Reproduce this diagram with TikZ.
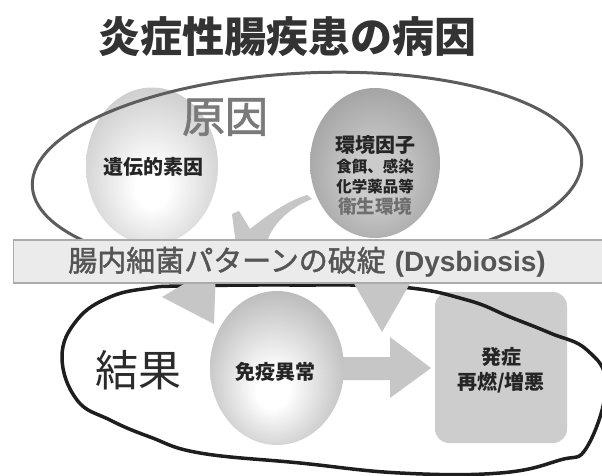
\documentclass[tikz,border=0pt]{standalone}
\usepackage{fontspec}
\setmainfont{Liberation Sans}
\newfontfamily\jp{Noto Sans CJK JP}
\newfontfamily\jpmed[FakeBold=1.5]{Noto Sans CJK JP}
\usetikzlibrary{shapes.geometric}
\definecolor{titlegray}{HTML}{333333}
\definecolor{causegray}{HTML}{7A7A7A}
\definecolor{resultgray}{HTML}{2B2B2B}
\definecolor{ringgray}{HTML}{5C5C5C}
\definecolor{ringdark}{HTML}{1E1E1E}
\definecolor{arrowgray}{HTML}{C6C6C6}
\definecolor{bandfill}{HTML}{EBEBEB}
\definecolor{bandline}{HTML}{ABABAB}
\definecolor{bandtext}{HTML}{555555}
\definecolor{boxfill}{HTML}{CDCDCD}
\definecolor{labeltext}{HTML}{252525}
\definecolor{softtext}{HTML}{6E6E6E}
\definecolor{lmid}{HTML}{D0D0D0}
\definecolor{ledge}{HTML}{9C9C9C}
\definecolor{rcen}{HTML}{CBCBCB}
\definecolor{rmid}{HTML}{A0A0A0}
\definecolor{redge}{HTML}{727272}
\definecolor{mmid}{HTML}{B8B8B8}
\definecolor{medge}{HTML}{7C7C7C}
\pgfdeclareradialshading{orbLeft}{\pgfpoint{0bp}{-8bp}}{color(0bp)=(white); color(6bp)=(white); color(28bp)=(lmid); color(50bp)=(ledge)}
\pgfdeclareradialshading{orbRight}{\pgfpoint{0bp}{-6bp}}{color(0bp)=(rcen); color(8bp)=(rcen); color(30bp)=(rmid); color(50bp)=(redge)}
\pgfdeclareradialshading{orbMid}{\pgfpoint{-2bp}{-8bp}}{color(0bp)=(white); color(6bp)=(white); color(30bp)=(mmid); color(50bp)=(medge)}
\begin{document}
\begin{tikzpicture}[x=1pt,y=-1pt,
  orb/.style={ellipse, inner sep=0pt, outer sep=0pt},
  lbl/.style={font=\jp\bfseries\fontsize{20}{22}\selectfont, text=labeltext, inner sep=0pt},
  sublbl/.style={font=\jp\bfseries\fontsize{15.5}{18}\selectfont, text=labeltext, inner sep=0pt},
  bigword/.style={font=\jp\fontsize{43}{45}\selectfont, inner sep=0pt},
  ring/.style={line width=3pt},
  fatarrow/.style={fill=arrowgray, draw=none}]
\useasboundingbox (0,0) rectangle (602,476);
\fill[white] (0,0) rectangle (602,476);
\clip (0,0) rectangle (602,476);

% result box
\node[fill=boxfill, rounded corners=14pt, minimum width=132pt, minimum height=151pt, inner sep=0pt] (box) at (501,367.5) {};

% bottom ring
\draw[ringdark, line width=3.5pt] plot[smooth cycle, tension=0.7] coordinates {(62,357) (77,320) (110,297) (150,288) (183,286) (290,285) (400,287) (467,300) (510,317) (550,333) (587,350) (606,385) (587,447) (560,460) (500,473) (400,473) (300,463) (200,453) (150,437) (110,420) (77,400)};

% arrows
\fill[fatarrow] (232,214) -- (239,211) -- (250,229) .. controls (270,213) and (290,200) .. (307,195) -- (312,199) .. controls (292,207) and (272,222) .. (266,245) -- (236,245) -- cycle;
\fill[fatarrow] (216,265) -- (162,297) -- (214,324) -- cycle;
\fill[fatarrow] (349,275) -- (415,275) -- (382,332) -- cycle;
\fill[fatarrow] (340,357) -- (390,357) -- (390,337) -- (431,368) -- (390,398) -- (390,380) -- (340,380) -- cycle;

% cause spheres
\node[orb, minimum width=132pt, minimum height=157pt, shading=orbLeft] (gen) at (152,166) {};
\node[orb, minimum width=130pt, minimum height=150pt, shading=orbRight] (env) at (375,163) {};

% top ring
\draw[ring, ringgray, rotate around={2.8:(307,173)}] (307,173) ellipse [x radius=275pt, y radius=100pt];

% band
\node[draw=bandline, fill=bandfill, line width=1.2pt, minimum width=600pt, minimum height=43pt, inner sep=0pt, anchor=west] (band) at (13,261.5) {};
\node[inner sep=0pt, text=bandtext] (bandtxt) at (307,262) {{\jpmed\fontsize{29}{31}\selectfont 腸内細菌パターンの破綻}\hspace{9pt}{\bfseries\fontsize{28}{31}\selectfont (Dysbiosis)}};

% immune sphere
\node[orb, minimum width=134pt, minimum height=154pt, shading=orbMid] (imm) at (277,368) {};

% texts
\node[inner sep=0pt, text=titlegray, font=\jp\bfseries\fontsize{42}{44}\selectfont] (title) at (287,37) {炎症性腸疾患の病因};
\node[bigword, font=\jpmed\fontsize{43}{45}\selectfont, text=causegray] (cause) at (225,117) {原因};
\node[bigword, text=resultgray] (result) at (138,370) {結果};
\node[lbl] (genlbl) at (153,167) {遺伝的素因};
\node[lbl] (env1) at (375,145) {環境因子};
\node[sublbl] (env2) at (375,167) {食餌、感染};
\node[sublbl] (env3) at (375,187) {化学薬品等};
\node[lbl, font=\jp\bfseries\fontsize{18.5}{20}\selectfont, text=softtext] (env4) at (375,207) {衛生環境};
\node[lbl] (immlbl) at (275,372) {免疫異常};
\node[lbl] (box1) at (501,357) {発症};
\node[lbl] (box2) at (501,383) {再燃/増悪};
\end{tikzpicture}
\end{document}
